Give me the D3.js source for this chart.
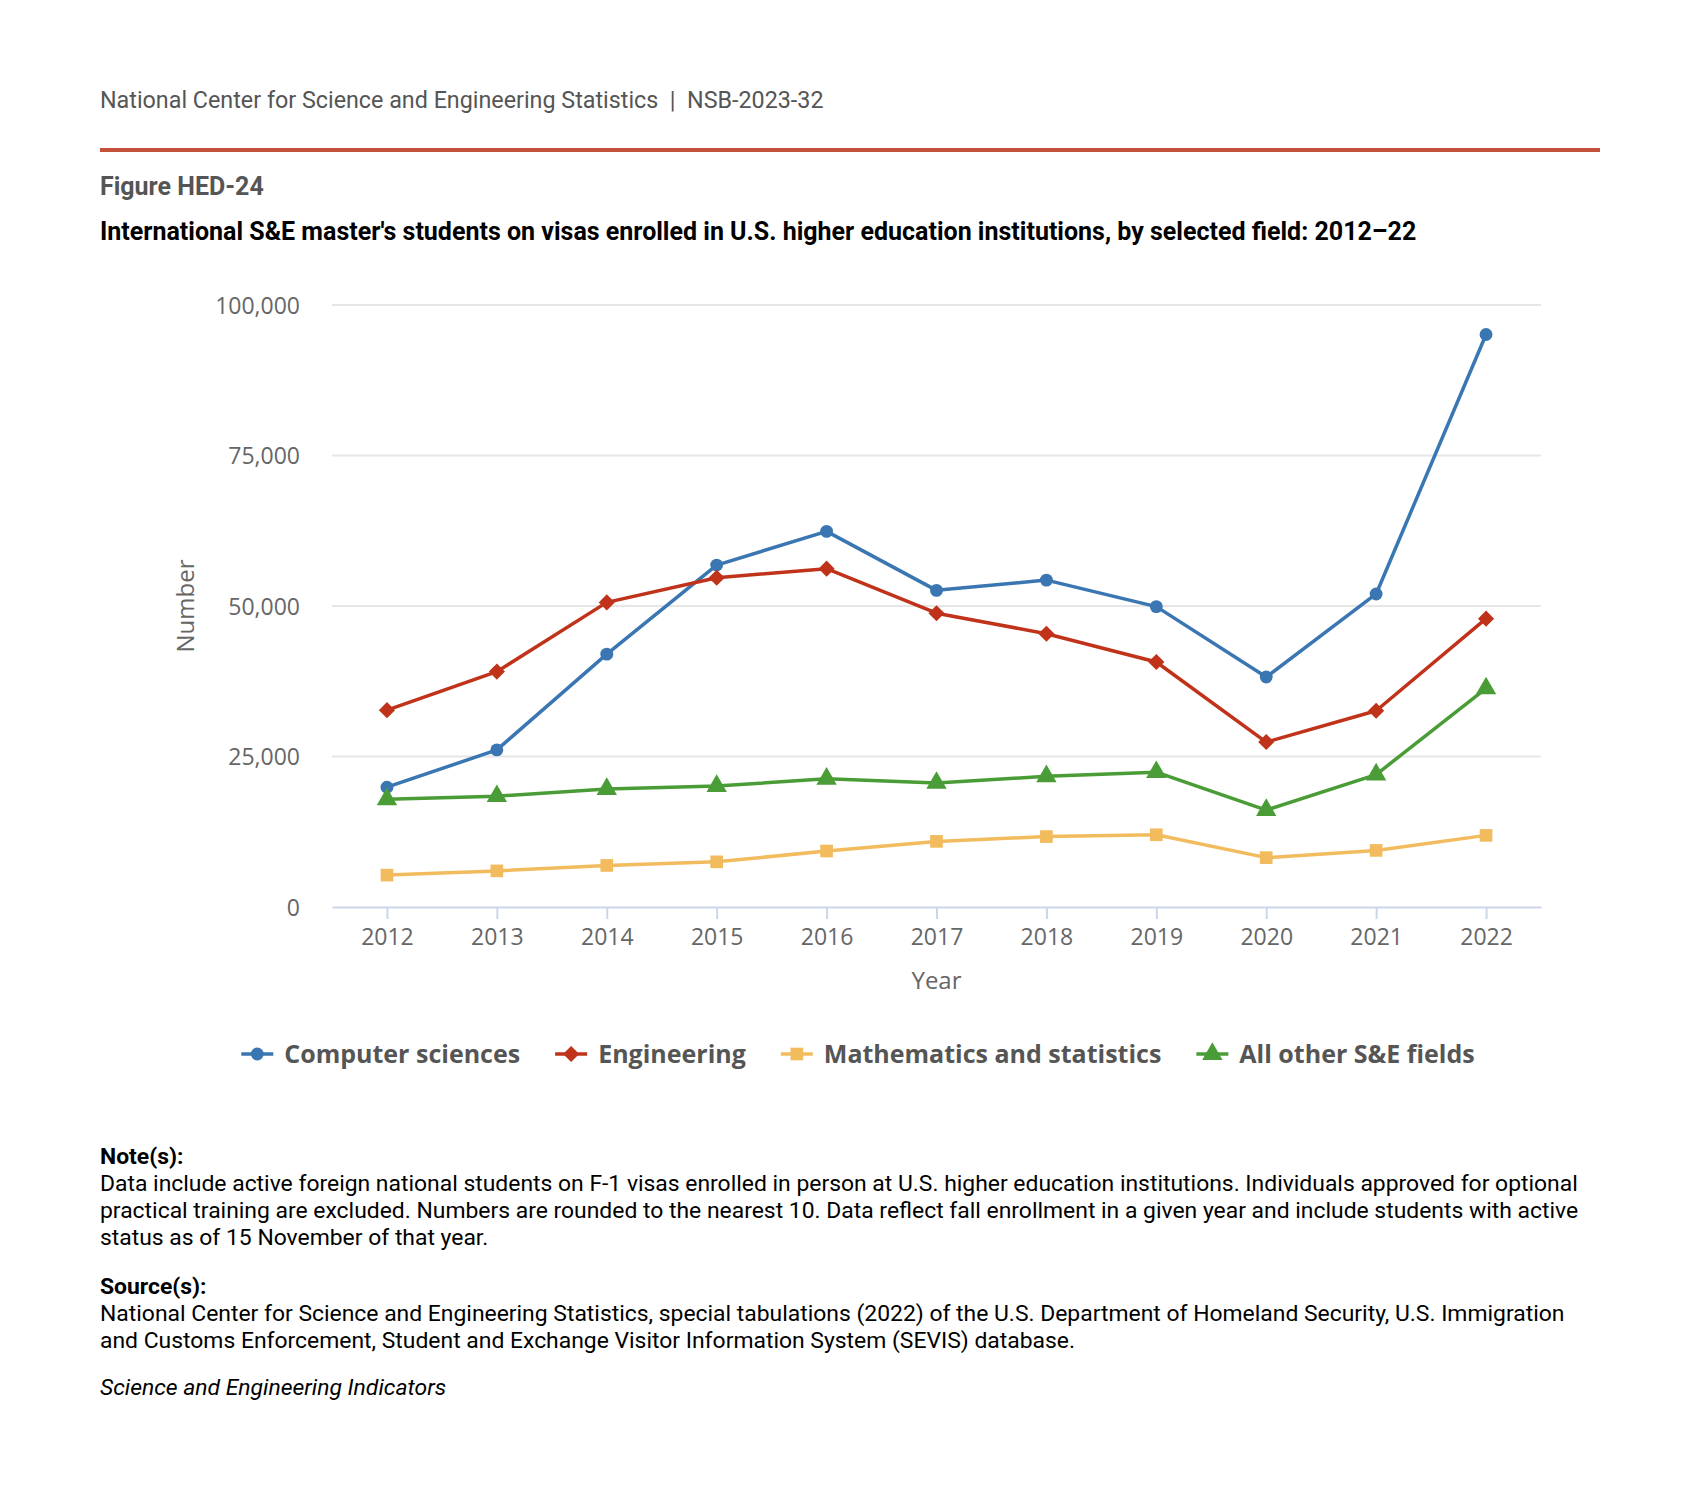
<!DOCTYPE html>
<meta charset="utf-8">
<style>
body { margin: 0; background: #fff; }
.head { font-family: Roboto, sans-serif; }
.axis text { font-family: "Open Sans", sans-serif; fill: #666; }
.grid line { stroke: #e6e6e6; }
.legend text { font-family: "Open Sans", sans-serif; font-weight: bold; fill: #555; }
</style>
<svg width="1699" height="1509"></svg>
<script src="https://cdn.jsdelivr.net/npm/d3@7"></script>
<script>

var years = [2012, 2013, 2014, 2015, 2016, 2017, 2018, 2019, 2020, 2021, 2022];
var seriesNames = ["Computer sciences", "Engineering", "Mathematics and statistics", "All other S&E fields"];
var computerSciences = [19900, 26100, 42000, 56800, 62400, 52600, 54300, 49900, 38200, 52000, 95100];
var engineering = [32700, 39100, 50600, 54700, 56200, 48800, 45400, 40700, 27400, 32600, 47900];
var mathStats = [5300, 6000, 6900, 7500, 9300, 10900, 11700, 12000, 8200, 9400, 11900];
var allOther = [17900, 18400, 19600, 20100, 21300, 20600, 21700, 22400, 16100, 22000, 36300];
var yTicks = [0, 25000, 50000, 75000, 100000];

var colors = ["#3a76b1", "#c0321a", "#f2bb5e", "#4a9d36"];
var series = [computerSciences, engineering, mathStats, allOther];

// marker shapes: circle, diamond (rotated square), square, triangle
var diamond = {draw: function(ctx, size) {
  var r = Math.sqrt(size / 2);
  ctx.moveTo(0, -r); ctx.lineTo(r, 0); ctx.lineTo(0, r); ctx.lineTo(-r, 0); ctx.closePath();
}};
var symbols = [d3.symbolCircle, diamond, d3.symbolSquare, d3.symbolTriangle];
var symbolSizes = [130, 130, 160, 180];

var svg = d3.select("svg");

// header block
svg.append("text").attr("class", "head")
    .attr("x", 100).attr("y", 108)
    .attr("font-size", 23.3).attr("fill", "#555")
    .attr("xml:space", "preserve")
    .text("National Center for Science and Engineering Statistics  |  NSB-2023-32");

svg.append("rect").attr("x", 100).attr("y", 148).attr("width", 1500).attr("height", 4)
    .attr("fill", "#c4523a");

svg.append("text").attr("class", "head")
    .attr("x", 100).attr("y", 195)
    .attr("font-size", 25).attr("font-weight", "bold").attr("fill", "#555")
    .text("Figure HED-24");

svg.append("text").attr("class", "head")
    .attr("x", 100).attr("y", 240)
    .attr("font-size", 25).attr("font-weight", "bold").attr("fill", "#000")
    .text("International S&E master's students on visas enrolled in U.S. higher education institutions, by selected field: 2012\u201322");

// plot
var margin = {top: 305, left: 332, right: 158, bottom: 602};
var width = 1699 - margin.left - margin.right,
    height = 1509 - margin.top - margin.bottom;

var x = d3.scalePoint().domain(years).range([0, width]).padding(0.5);
var y = d3.scaleLinear().domain([0, 100000]).range([height, 0]);

var g = svg.append("g").attr("transform", "translate(" + margin.left + "," + margin.top + ")");

g.append("g").attr("class", "grid")
  .selectAll("line").data(yTicks.slice(1)).enter().append("line")
    .attr("x1", 0).attr("x2", width)
    .attr("y1", function(d) { return y(d); }).attr("y2", function(d) { return y(d); })
    .attr("stroke-width", 2);

var yAxis = g.append("g").attr("class", "axis")
    .attr("transform", "translate(-29,0)")
    .call(d3.axisLeft(y).tickValues(yTicks).tickSize(0).tickFormat(d3.format(",")));
yAxis.select(".domain").remove();
yAxis.selectAll("text").attr("font-size", 23).attr("dy", "0.35em");

var xAxis = g.append("g").attr("class", "axis")
    .attr("transform", "translate(0," + height + ")")
    .call(d3.axisBottom(x).tickSize(12).tickSizeOuter(0).tickPadding(10));
xAxis.select(".domain").attr("stroke", "#ccd6eb").attr("stroke-width", 2);
xAxis.selectAll(".tick line").attr("stroke", "#ccd6eb").attr("stroke-width", 2);
xAxis.selectAll("text").attr("font-size", 23);

g.append("text")
    .attr("x", width / 2).attr("y", height + 82)
    .attr("text-anchor", "middle")
    .attr("font-family", "Open Sans, sans-serif").attr("font-size", 24).attr("fill", "#666")
    .text("Year");

g.append("text")
    .attr("transform", "translate(-138," + (height / 2) + ") rotate(-90)")
    .attr("text-anchor", "middle")
    .attr("font-family", "Open Sans, sans-serif").attr("font-size", 24).attr("fill", "#666")
    .text("Number");

var line = d3.line()
    .x(function(d, i) { return x(years[i]); })
    .y(function(d) { return y(d); });

series.forEach(function(vals, k) {
  g.append("path").datum(vals)
      .attr("fill", "none")
      .attr("stroke", colors[k])
      .attr("stroke-width", 3.5)
      .attr("stroke-linejoin", "round")
      .attr("d", line);
  g.selectAll(".m" + k).data(vals).enter().append("path")
      .attr("class", "m" + k)
      .attr("transform", function(d, i) { return "translate(" + x(years[i]) + "," + y(d) + ")"; })
      .attr("d", d3.symbol().type(symbols[k]).size(symbolSizes[k]))
      .attr("fill", colors[k]);
});

// legend
var legend = svg.append("g").attr("class", "legend").attr("transform", "translate(0,1054)");
var items = legend.selectAll("g").data(seriesNames).enter().append("g");
items.append("line").attr("x1", 0).attr("x2", 32).attr("y1", 0).attr("y2", 0)
    .attr("stroke", function(d, i) { return colors[i]; }).attr("stroke-width", 3.5);
items.append("path").attr("transform", "translate(16,0)")
    .attr("d", function(d, i) { return d3.symbol().type(symbols[i]).size(symbolSizes[i])(); })
    .attr("fill", function(d, i) { return colors[i]; });
items.append("text").attr("x", 43).attr("dy", "0.35em").attr("font-size", 25).text(function(d) { return d; });

var gap = 35, pos = 0, offsets = [];
items.each(function() {
  offsets.push(pos);
  pos += 43 + this.querySelector("text").getComputedTextLength() + gap;
});
var total = pos - gap, start = 858 - total / 2;
items.attr("transform", function(d, i) { return "translate(" + (start + offsets[i]) + ",0)"; });

// notes
var notes = svg.append("g").attr("class", "head").attr("font-size", 22.9).attr("fill", "#000");
var noteLines = [
  ["Note(s):", "bold", 1164],
  ["Data include active foreign national students on F-1 visas enrolled in person at U.S. higher education institutions. Individuals approved for optional", "normal", 1191],
  ["practical training are excluded. Numbers are rounded to the nearest 10. Data reflect fall enrollment in a given year and include students with active", "normal", 1218],
  ["status as of 15 November of that year.", "normal", 1245],
  ["Source(s):", "bold", 1294],
  ["National Center for Science and Engineering Statistics, special tabulations (2022) of the U.S. Department of Homeland Security, U.S. Immigration", "normal", 1321],
  ["and Customs Enforcement, Student and Exchange Visitor Information System (SEVIS) database.", "normal", 1348]
];
noteLines.forEach(function(l) {
  notes.append("text").attr("x", 100).attr("y", l[2]).attr("font-weight", l[1]).text(l[0]);
});
notes.append("text").attr("x", 100).attr("y", 1395).attr("font-style", "italic")
    .text("Science and Engineering Indicators");

</script>
